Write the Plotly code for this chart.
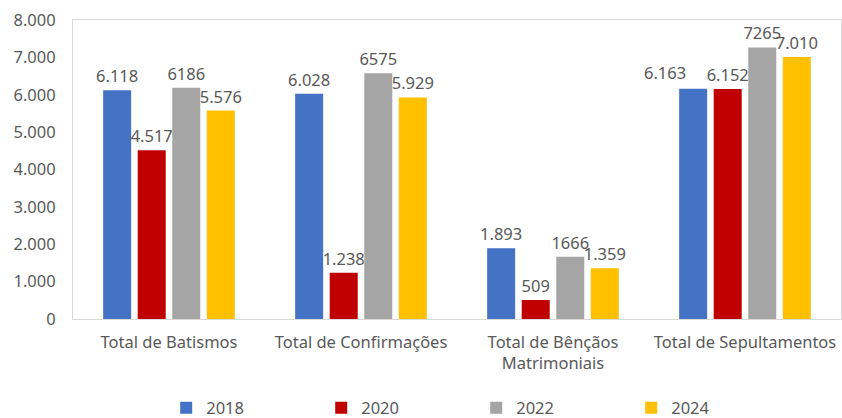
import plotly.graph_objects as go

categories = ["Total de Batismos", "Total de Confirmações", "Total de Bênçãos<br>Matrimoniais", "Total de Sepultamentos"]
years = ["2018", "2020", "2022", "2024"]
values = {
    "2018": [6118, 6028, 1893, 6163],
    "2020": [4517, 1238, 509, 6152],
    "2022": [6186, 6575, 1666, 7265],
    "2024": [5576, 5929, 1359, 7010],
}
labels = {
    "2018": ["6.118", "6.028", "1.893", "6.163"],
    "2020": ["4.517", "1.238", "509", "6.152"],
    "2022": ["6186", "6575", "1666", "7265"],
    "2024": ["5.576", "5.929", "1.359", "7.010"],
}
colors = {"2018": "#4472C4", "2020": "#C00000", "2022": "#A5A5A5", "2024": "#FFC000"}

FONT = "Noto Sans"
TXT = "#595959"
FS = 16.5

fig = go.Figure()
for y in years:
    txt = list(labels[y])
    if y == "2018":
        txt[3] = ""  # drawn as a shifted annotation below, as in the reference
    fig.add_trace(go.Bar(
        x=categories, y=values[y], name=y,
        marker=dict(color=colors[y], line=dict(width=0)),
        text=txt, textposition="outside", constraintext="none",
        textfont=dict(family=FONT, size=FS, color=TXT),
        cliponaxis=False,
    ))

# 2018 label over "Sepultamentos" pushed left to avoid overlapping the 2020 label
fig.add_annotation(x=categories[3], y=values["2018"][3], text=labels["2018"][3],
                   showarrow=False, xanchor="center", yanchor="bottom",
                   xshift=-80, yshift=3,
                   font=dict(family=FONT, size=FS, color=TXT))

fig.update_layout(
    width=842, height=418,
    margin=dict(l=73, r=1, t=20, b=99, autoexpand=False),
    paper_bgcolor="white", plot_bgcolor="white",
    barmode="group", bargap=0.28, bargroupgap=0.19,
    separators=",.",
    font=dict(family=FONT, size=FS, color=TXT),
    showlegend=True,
    legend=dict(orientation="h", x=0.525, xanchor="center", y=0.024, yanchor="middle",
                yref="container",
                font=dict(family=FONT, size=FS, color=TXT),
                entrywidth=110, entrywidthmode="pixels", itemwidth=30),
)
fig.update_xaxes(showline=True, linecolor="#D9D9D9", linewidth=1, mirror=True,
                 showgrid=False, ticks="", ticklabelstandoff=8, automargin=False,
                 tickfont=dict(family=FONT, size=FS, color=TXT))
fig.update_yaxes(range=[0, 8000], dtick=1000, tickformat=",.0f",
                 showline=True, linecolor="#D9D9D9", linewidth=1, mirror=True,
                 showgrid=False, zeroline=False, ticks="", ticklabelstandoff=13,
                 automargin=False,
                 tickfont=dict(family=FONT, size=FS, color=TXT))

fig.write_html("out.html", config={"displayModeBar": False},
               post_script="document.body.style.margin='0px';document.body.style.overflow='hidden';")
